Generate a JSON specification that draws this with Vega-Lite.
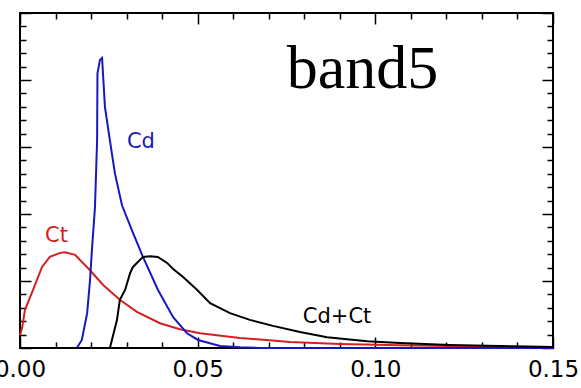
{
  "$schema": "https://vega.github.io/schema/vega-lite/v6.json",
  "width": 533,
  "height": 335,
  "autosize": {"type": "none"},
  "padding": {"left": 20, "top": 13, "right": 28, "bottom": 40},
  "background": "white",
  "config": {
    "view": {"stroke": "black", "strokeWidth": 2},
    "axis": {"grid": false, "domain": false, "title": null, "tickColor": "black", "tickWidth": 1.5, "labelColor": "black"}
  },
  "datasets": {
    "curves": [
      {"s": "Ct", "x": 0.0, "y": 0.19},
      {"s": "Ct", "x": 0.0006, "y": 0.30},
      {"s": "Ct", "x": 0.0014, "y": 0.57},
      {"s": "Ct", "x": 0.0037, "y": 0.87},
      {"s": "Ct", "x": 0.0062, "y": 1.21},
      {"s": "Ct", "x": 0.0084, "y": 1.36},
      {"s": "Ct", "x": 0.0113, "y": 1.42},
      {"s": "Ct", "x": 0.0127, "y": 1.43},
      {"s": "Ct", "x": 0.0155, "y": 1.39},
      {"s": "Ct", "x": 0.0197, "y": 1.16},
      {"s": "Ct", "x": 0.0234, "y": 0.94},
      {"s": "Ct", "x": 0.0281, "y": 0.72},
      {"s": "Ct", "x": 0.0329, "y": 0.54},
      {"s": "Ct", "x": 0.0394, "y": 0.37},
      {"s": "Ct", "x": 0.0450, "y": 0.28},
      {"s": "Ct", "x": 0.0507, "y": 0.22},
      {"s": "Ct", "x": 0.0619, "y": 0.15},
      {"s": "Ct", "x": 0.0760, "y": 0.09},
      {"s": "Ct", "x": 0.0901, "y": 0.06},
      {"s": "Ct", "x": 0.1069, "y": 0.04},
      {"s": "Ct", "x": 0.1210, "y": 0.03},
      {"s": "Ct", "x": 0.1351, "y": 0.02},
      {"s": "Ct", "x": 0.15, "y": 0.015},
      {"s": "Cd", "x": 0.0, "y": 0},
      {"s": "Cd", "x": 0.0160, "y": 0},
      {"s": "Cd", "x": 0.0174, "y": 0.12},
      {"s": "Cd", "x": 0.0189, "y": 0.52},
      {"s": "Cd", "x": 0.0197, "y": 1.01},
      {"s": "Cd", "x": 0.0203, "y": 1.51},
      {"s": "Cd", "x": 0.0211, "y": 2.10},
      {"s": "Cd", "x": 0.0217, "y": 3.10},
      {"s": "Cd", "x": 0.0218, "y": 4.10},
      {"s": "Cd", "x": 0.0225, "y": 4.30},
      {"s": "Cd", "x": 0.0231, "y": 4.33},
      {"s": "Cd", "x": 0.0239, "y": 3.60},
      {"s": "Cd", "x": 0.0253, "y": 3.10},
      {"s": "Cd", "x": 0.0267, "y": 2.61},
      {"s": "Cd", "x": 0.0287, "y": 2.13},
      {"s": "Cd", "x": 0.0318, "y": 1.72},
      {"s": "Cd", "x": 0.0346, "y": 1.36},
      {"s": "Cd", "x": 0.0388, "y": 0.87},
      {"s": "Cd", "x": 0.0431, "y": 0.46},
      {"s": "Cd", "x": 0.0470, "y": 0.22},
      {"s": "Cd", "x": 0.0501, "y": 0.12},
      {"s": "Cd", "x": 0.0563, "y": 0.03},
      {"s": "Cd", "x": 0.0619, "y": 0.01},
      {"s": "Cd", "x": 0.0675, "y": 0},
      {"s": "Cd", "x": 0.15, "y": 0},
      {"s": "Cd+Ct", "x": 0.0, "y": 0},
      {"s": "Cd+Ct", "x": 0.0253, "y": 0},
      {"s": "Cd+Ct", "x": 0.0273, "y": 0.42},
      {"s": "Cd+Ct", "x": 0.0281, "y": 0.72},
      {"s": "Cd+Ct", "x": 0.0296, "y": 0.87},
      {"s": "Cd+Ct", "x": 0.0310, "y": 1.12},
      {"s": "Cd+Ct", "x": 0.0318, "y": 1.21},
      {"s": "Cd+Ct", "x": 0.0346, "y": 1.36},
      {"s": "Cd+Ct", "x": 0.0366, "y": 1.37},
      {"s": "Cd+Ct", "x": 0.0388, "y": 1.36},
      {"s": "Cd+Ct", "x": 0.0414, "y": 1.27},
      {"s": "Cd+Ct", "x": 0.0431, "y": 1.18},
      {"s": "Cd+Ct", "x": 0.0459, "y": 1.06},
      {"s": "Cd+Ct", "x": 0.0498, "y": 0.87},
      {"s": "Cd+Ct", "x": 0.0535, "y": 0.67},
      {"s": "Cd+Ct", "x": 0.0591, "y": 0.52},
      {"s": "Cd+Ct", "x": 0.0647, "y": 0.42},
      {"s": "Cd+Ct", "x": 0.0712, "y": 0.33},
      {"s": "Cd+Ct", "x": 0.0788, "y": 0.24},
      {"s": "Cd+Ct", "x": 0.0864, "y": 0.16},
      {"s": "Cd+Ct", "x": 0.0977, "y": 0.10},
      {"s": "Cd+Ct", "x": 0.1069, "y": 0.075},
      {"s": "Cd+Ct", "x": 0.1210, "y": 0.045},
      {"s": "Cd+Ct", "x": 0.1351, "y": 0.03},
      {"s": "Cd+Ct", "x": 0.15, "y": 0.015}
    ],
    "labels": [
      {"s": "Cd", "x": 0.0301, "y": 2.985},
      {"s": "Ct", "x": 0.00704, "y": 1.582},
      {"s": "Cd+Ct", "x": 0.0796, "y": 0.373}
    ],
    "title": [
      {"t": "band5", "x": 0.0751, "y": 3.88}
    ]
  },
  "layer": [
    {
      "data": {"name": "curves"},
      "transform": [{"filter": "datum.s === 'Ct'"}],
      "mark": {"type": "line", "color": "#d42020", "strokeWidth": 2},
      "encoding": {
        "x": {"field": "x", "type": "quantitative", "scale": {"domain": [0, 0.15], "nice": false, "zero": false},
              "axis": {"orient": "bottom", "values": [0, 0.05, 0.1, 0.15], "format": ".2f", "ticks": false, "tickSize": 0, "labelPadding": 10, "labelFont": "DejaVu Sans", "labelFontSize": 23, "labelFlush": false, "labelOverlap": false}},
        "y": {"field": "y", "type": "quantitative", "scale": {"domain": [0, 5], "nice": false},
              "axis": {"orient": "left", "values": [0, 1, 2, 3, 4, 5], "labels": false, "tickSize": -11}}
      }
    },
    {
      "data": {"name": "curves"},
      "transform": [{"filter": "datum.s === 'Cd'"}],
      "mark": {"type": "line", "color": "#1818c0", "strokeWidth": 2},
      "encoding": {
        "x": {"field": "x", "type": "quantitative", "scale": {"domain": [0, 0.15], "nice": false, "zero": false},
              "axis": {"orient": "bottom", "values": [0, 0.05, 0.1, 0.15], "labels": false, "tickSize": -11}},
        "y": {"field": "y", "type": "quantitative", "scale": {"domain": [0, 5], "nice": false},
              "axis": {"orient": "left", "values": [0.2, 0.4, 0.6, 0.8, 1.2, 1.4, 1.6, 1.8, 2.2, 2.4, 2.6, 2.8, 3.2, 3.4, 3.6, 3.8, 4.2, 4.4, 4.6, 4.8], "labels": false, "tickSize": -6}}
      }
    },
    {
      "data": {"name": "curves"},
      "transform": [{"filter": "datum.s === 'Cd+Ct'"}],
      "mark": {"type": "line", "color": "#000000", "strokeWidth": 2},
      "encoding": {
        "x": {"field": "x", "type": "quantitative", "scale": {"domain": [0, 0.15], "nice": false, "zero": false},
              "axis": {"orient": "bottom", "values": [0.01, 0.02, 0.03, 0.04, 0.06, 0.07, 0.08, 0.09, 0.11, 0.12, 0.13, 0.14], "labels": false, "tickSize": -6}},
        "y": {"field": "y", "type": "quantitative", "scale": {"domain": [0, 5], "nice": false},
              "axis": {"orient": "right", "values": [0, 1, 2, 3, 4, 5], "labels": false, "tickSize": -11}}
      }
    },
    {
      "data": {"name": "labels"},
      "mark": {"type": "text", "align": "left", "baseline": "alphabetic", "font": "DejaVu Sans", "fontSize": 21},
      "encoding": {
        "x": {"field": "x", "type": "quantitative", "scale": {"domain": [0, 0.15], "nice": false, "zero": false},
              "axis": {"orient": "top", "values": [0, 0.05, 0.1, 0.15], "labels": false, "tickSize": -11}},
        "y": {"field": "y", "type": "quantitative", "scale": {"domain": [0, 5], "nice": false},
              "axis": {"orient": "right", "values": [0.2, 0.4, 0.6, 0.8, 1.2, 1.4, 1.6, 1.8, 2.2, 2.4, 2.6, 2.8, 3.2, 3.4, 3.6, 3.8, 4.2, 4.4, 4.6, 4.8], "labels": false, "tickSize": -6}},
        "text": {"field": "s"},
        "color": {"field": "s", "type": "nominal", "scale": {"domain": ["Cd", "Ct", "Cd+Ct"], "range": ["#1818c0", "#d42020", "#000000"]}, "legend": null}
      }
    },
    {
      "data": {"name": "title"},
      "mark": {"type": "text", "align": "left", "baseline": "alphabetic", "font": "Liberation Serif", "fontSize": 62, "color": "black"},
      "encoding": {
        "x": {"field": "x", "type": "quantitative", "scale": {"domain": [0, 0.15], "nice": false, "zero": false},
              "axis": {"orient": "top", "values": [0.01, 0.02, 0.03, 0.04, 0.06, 0.07, 0.08, 0.09, 0.11, 0.12, 0.13, 0.14], "labels": false, "tickSize": -6}},
        "y": {"field": "y", "type": "quantitative", "scale": {"domain": [0, 5], "nice": false}, "axis": null},
        "text": {"field": "t"}
      }
    }
  ],
  "resolve": {"axis": {"x": "independent", "y": "independent"}}
}
